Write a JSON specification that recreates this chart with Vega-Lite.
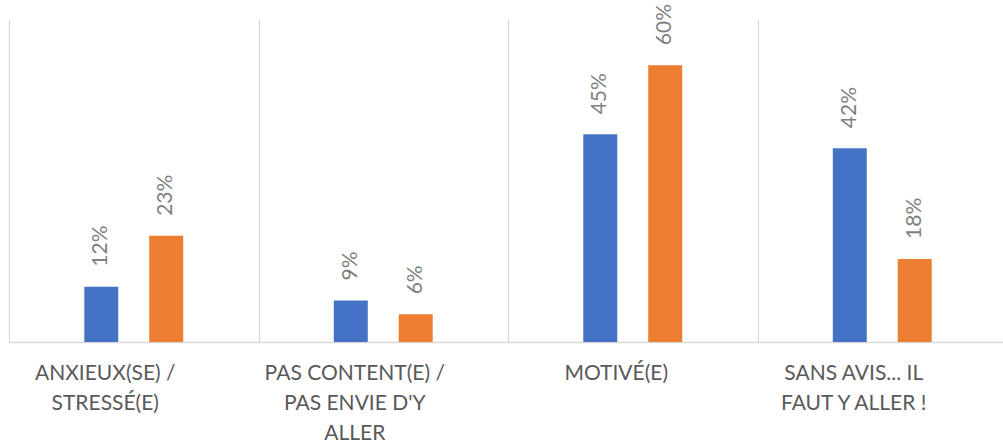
{
  "$schema": "https://vega.github.io/schema/vega-lite/v6.json",
  "autosize": "none",
  "width": 994,
  "height": 323,
  "padding": {"left": 9, "top": 19, "right": 0, "bottom": 100},
  "background": "white",
  "config": {"view": {"stroke": null}, "font": "Lato"},
  "data": {
    "values": [
      {"cat": "ANXIEUX(SE) / STRESSÉ(E)", "serie": "Série1", "value": 0.12},
      {"cat": "ANXIEUX(SE) / STRESSÉ(E)", "serie": "Série2", "value": 0.23},
      {"cat": "PAS CONTENT(E) / PAS ENVIE D'Y ALLER", "serie": "Série1", "value": 0.09},
      {"cat": "PAS CONTENT(E) / PAS ENVIE D'Y ALLER", "serie": "Série2", "value": 0.06},
      {"cat": "MOTIVÉ(E)", "serie": "Série1", "value": 0.45},
      {"cat": "MOTIVÉ(E)", "serie": "Série2", "value": 0.60},
      {"cat": "SANS AVIS... IL FAUT Y ALLER !", "serie": "Série1", "value": 0.42},
      {"cat": "SANS AVIS... IL FAUT Y ALLER !", "serie": "Série2", "value": 0.18}
    ]
  },
  "encoding": {
    "x": {
      "field": "cat",
      "type": "nominal",
      "sort": null,
      "scale": {"paddingInner": 0, "paddingOuter": 0, "range": [0, 998]},
      "axis": {
        "title": null,
        "tickBand": "extent",
        "grid": true,
        "gridColor": "#d9d9d9",
        "gridWidth": 1.3,
        "ticks": false,
        "domainColor": "#d9d9d9",
        "domainWidth": 1.5,
        "labelAngle": 0,
        "labelFontSize": 21,
        "labelColor": "#595959",
        "labelPadding": 37,
        "labelLineHeight": 30,
        "labelBaseline": "alphabetic",
        "labelOffset": {"condition": {"test": "datum.value == 'MOTIVÉ(E)'", "value": -17}, "value": -29},
        "labelLimit": 0,
        "labelExpr": "datum.value == 'ANXIEUX(SE) / STRESSÉ(E)' ? ['ANXIEUX(SE) /', 'STRESSÉ(E)'] : datum.value == \"PAS CONTENT(E) / PAS ENVIE D'Y ALLER\" ? ['PAS CONTENT(E) /', \"PAS ENVIE D'Y\", 'ALLER'] : datum.value == 'SANS AVIS... IL FAUT Y ALLER !' ? ['SANS AVIS... IL', 'FAUT Y ALLER !'] : datum.value"
      }
    },
    "xOffset": {
      "field": "serie",
      "type": "nominal",
      "scale": {"paddingInner": 0.477, "paddingOuter": 0, "range": [75.3, 174.2]}
    },
    "y": {
      "field": "value",
      "type": "quantitative",
      "scale": {"domain": [0, 0.7]},
      "axis": null
    }
  },
  "layer": [
    {
      "mark": {"type": "bar"},
      "encoding": {
        "color": {
          "field": "serie",
          "type": "nominal",
          "scale": {"range": ["#4472C4", "#ED7D31"]},
          "legend": null
        }
      }
    },
    {
      "mark": {"type": "text", "angle": 270, "align": "left", "baseline": "middle", "dx": 20, "fontSize": 21, "fill": "#7f7f7f"},
      "encoding": {
        "text": {"field": "value", "type": "quantitative", "format": ".0%"}
      }
    }
  ]
}
